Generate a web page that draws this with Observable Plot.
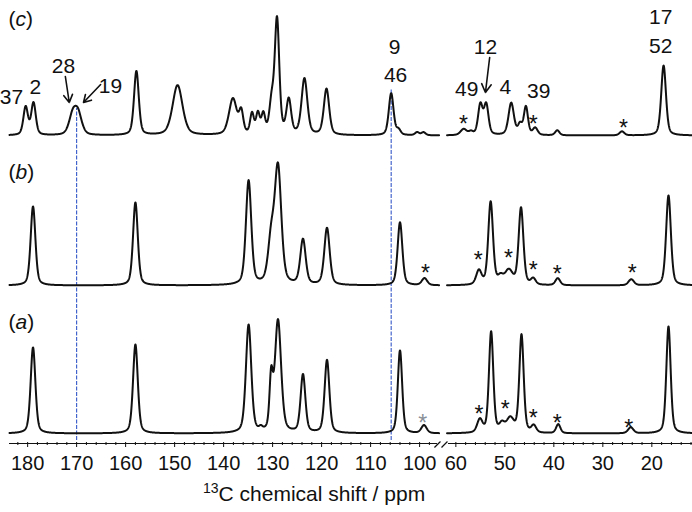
<!DOCTYPE html>
<html><head><meta charset="utf-8">
<script src="https://cdn.jsdelivr.net/npm/d3@7"></script>
<script src="https://cdn.jsdelivr.net/npm/@observablehq/plot@0.6"></script>
<style>
body{margin:0;background:#fff;font-family:"Liberation Sans",Arial,sans-serif;width:692px;overflow:hidden}
#cap{font-size:21px;margin-left:203px;line-height:24px;color:#111;white-space:nowrap}
#cap .sup{font-size:14px;position:relative;top:-8px}
</style></head><body>
<div id="chart"></div>
<div id="cap"><span class="sup">13</span>C chemical shift / ppm</div>
<script>
// ---- data (ppm, intensity, width in ppm) ----
const panelNames = ["(a)", "(b)", "(c)"];
const baselines = [9, 157, 307];          // vertical offsets of traces a, b, c
const peaksA = [
  [178.9, 86, 1.15], [158.0, 89, 1.15], [134.9, 108, 1.3], [132.4, 3, 0.8],
  [130.3, 50, 0.8], [128.9, 112, 1.5], [123.8, 58, 1.15], [118.9, 73, 1.15],
  [104.0, 83, 1.05], [99.1, 8, 1.3],
  [55.1, 13, 1.3], [52.8, 101, 1.05], [50.6, 8, 1.3], [48.9, 14, 1.8],
  [46.6, 98, 1.05], [44.1, 7, 1.15], [39.1, 9, 1.05], [24.3, 6, 1.3], [16.6, 107, 1.05]
];
const peaksB = [
  [178.9, 79, 1.15], [158.0, 83, 1.15], [134.9, 104, 1.3], [130.3, 42, 1.5],
  [128.9, 116, 1.6], [123.8, 45, 1.3], [118.9, 57, 1.3], [104.0, 63, 1.15], [99.0, 7, 1.3],
  [55.3, 14, 1.3], [52.9, 83, 1.15], [50.9, 7, 1.3], [49.2, 14, 1.9],
  [46.7, 77, 1.15], [44.2, 6, 1.15], [39.2, 7, 1.15], [24.2, 6, 1.3], [16.6, 90, 1.15]
];
const peaksC = [
  [180.4, 28, 1.1], [178.8, 32, 1.1], [170.8, 19, 1.8], [169.7, 20, 1.8],
  [157.8, 64, 1.15], [149.4, 50, 2.4], [138.1, 36, 1.9], [136.4, 21, 1.0],
  [134.2, 20, 0.9], [133.0, 20, 0.9], [131.9, 19, 0.9], [130.2, 30, 1.1],
  [129.1, 114, 1.1], [126.7, 34, 1.15], [123.5, 56, 1.4], [119.0, 46, 1.3],
  [105.8, 42, 1.15], [104.3, 5, 1.0], [100.5, 3, 1.0], [99.2, 3, 1.0],
  [58.4, 6, 1.5], [56.9, 3, 1.0], [55.0, 30, 1.1], [53.8, 30, 1.1],
  [48.7, 32, 1.3], [46.9, 10, 1.0], [45.7, 28, 1.0], [43.8, 7, 1.15],
  [39.3, 5, 1.05], [26.1, 4, 1.15], [17.6, 70, 1.15]
];
const segmentStart = [183.7, 61.8];
const segmentEnd = [96.0, 11.7];
const segmentShift = [0, 32.6];
const majorTicksLeft = [180, 170, 160, 150, 140, 130, 120, 110, 100];
const majorTicksRight = [60, 50, 40, 30, 20];
const minorTicksLeft = [182, 178, 176, 174, 172, 168, 166, 164, 162, 158, 156, 154, 152, 148, 146, 144, 142, 138, 136, 134, 132, 128, 126, 124, 122, 118, 116, 114, 112, 108, 106, 104, 102, 98];
const minorTicksRight = [58, 56, 54, 52, 48, 46, 44, 42, 38, 36, 34, 32, 28, 26, 24, 22, 18, 16, 14, 12];
const peakLabels = [
  {t: "37", seg: 0, ppm: 183.3, v: 339}, {t: "2", seg: 0, ppm: 178.4, v: 349},
  {t: "28", seg: 0, ppm: 172.7, v: 370}, {t: "19", seg: 0, ppm: 163.1, v: 350},
  {t: "9", seg: 0, ppm: 105.1, v: 389}, {t: "46", seg: 0, ppm: 104.9, v: 361},
  {t: "49", seg: 1, ppm: 57.8, v: 347}, {t: "12", seg: 1, ppm: 53.96, v: 389},
  {t: "4", seg: 1, ppm: 49.9, v: 349}, {t: "39", seg: 1, ppm: 43.1, v: 345},
  {t: "17", seg: 1, ppm: 18.2, v: 419}, {t: "52", seg: 1, ppm: 18.2, v: 390}
];
const arrows = [
  {seg: 0, p1: 172.3, v1: 366, p2: 171.5, v2: 340},
  {seg: 0, p1: 165.1, v1: 358, p2: 168.6, v2: 340},
  {seg: 1, p1: 53.1, v1: 385, p2: 53.96, v2: 350}
];
const stars = [
  {seg: 1, ppm: 58.45, v: 311}, {seg: 1, ppm: 44.2, v: 311}, {seg: 1, ppm: 25.8, v: 307},
  {seg: 0, ppm: 98.8, v: 162}, {seg: 1, ppm: 55.45, v: 175}, {seg: 1, ppm: 49.26, v: 177},
  {seg: 1, ppm: 44.2, v: 165}, {seg: 1, ppm: 39.3, v: 161}, {seg: 1, ppm: 24.0, v: 162},
  {seg: 1, ppm: 55.3, v: 21}, {seg: 1, ppm: 49.9, v: 26}, {seg: 1, ppm: 44.2, v: 17},
  {seg: 1, ppm: 39.3, v: 12}, {seg: 1, ppm: 24.7, v: 7}
];
const greyStars = [{seg: 0, ppm: 99.35, v: 12}];
const guideLines = [{ppm: 170.0, top: 334}, {ppm: 105.8, top: 354}];

// ---- build ----
const U = (seg, p) => p + segmentShift[seg];
function profile(peaks, p) {
  let s = 0;
  for (const [c, h, w] of peaks) {
    const t = (p - c) / (w / 2);
    s += h * (0.4 / (1 + t * t) + 0.6 * Math.exp(-Math.LN2 * t * t));
  }
  return s;
}
const spectra = [peaksA, peaksB, peaksC];
const rows = [];
spectra.forEach((peaks, k) => {
  for (let s = 0; s < 2; s++) {
    for (let p = segmentStart[s]; p >= segmentEnd[s] - 1e-9; p -= 0.04) {
      rows.push({key: k + "-" + s, u: U(s, p), v: baselines[k] + profile(peaks, p)});
    }
  }
});
const majorU = majorTicksLeft.map(p => U(0, p)).concat(majorTicksRight.map(p => U(1, p)));
const minorU = minorTicksLeft.map(p => U(0, p)).concat(minorTicksRight.map(p => U(1, p)));
const fmt = u => String(Math.round(u > 94 ? u : u - segmentShift[1]));
const axisSegs = [{x1: 183.7, x2: 96.35}, {x1: 94.1, x2: 44.3}];
const breakMarks = [{x1: 96.97, y1: -5, x2: 95.74, y2: 1}, {x1: 95.53, y1: -5, x2: 94.31, y2: 1}];
const panels = panelNames.map((t, k) => ({t, u: 183.9, v: [114, 264, 417][k]}));

const plot = Plot.plot({
  width: 692, height: 482,
  marginLeft: 9, marginRight: 0, marginTop: 0, marginBottom: 40,
  style: {fontFamily: "Liberation Sans, Arial, sans-serif", background: "white", color: "#111"},
  x: {domain: [183.7, 44.3], axis: null},
  y: {domain: [0, 442], axis: null},
  marks: [
    Plot.ruleX(guideLines, {x: "ppm", y1: 2, y2: "top", stroke: "#3558c8", strokeWidth: 1.1, strokeDasharray: "4,1.5"}),
    Plot.line(rows, {x: "u", y: "v", z: "key", stroke: "#111", strokeWidth: 2}),
    Plot.axisX(majorU, {ticks: majorU, tickSize: 5, tickPadding: 8, fontSize: 20, tickFormat: fmt, label: null, stroke: "#111"}),
    Plot.ruleX(minorU, {x: d => d, y1: 0, y2: -3, stroke: "#111"}),
    Plot.ruleY(axisSegs, {y: -1, x1: "x1", x2: "x2", stroke: "#111", strokeWidth: 1.2}),
    Plot.link(breakMarks, {x1: "x1", y1: "y1", x2: "x2", y2: "y2", stroke: "#111", strokeWidth: 1.2}),
    Plot.text(panels, {x: "u", y: "v", text: "t", textAnchor: "start", lineAnchor: "bottom", fontSize: 21, fill: "#111"}),
    Plot.text(peakLabels, {x: d => U(d.seg, d.ppm), y: "v", text: "t", lineAnchor: "bottom", fontSize: 21, fill: "#111"}),
    Plot.arrow(arrows, {x1: d => U(d.seg, d.p1), y1: "v1", x2: d => U(d.seg, d.p2), y2: "v2", stroke: "#111", strokeWidth: 1.6, headLength: 9}),
    Plot.text(stars, {x: d => U(d.seg, d.ppm), y: "v", text: () => "*", lineAnchor: "bottom", fontSize: 23, fill: "#111"}),
    Plot.text(greyStars, {x: d => U(d.seg, d.ppm), y: "v", text: () => "*", lineAnchor: "bottom", fontSize: 23, fill: "#8a9098"})
  ]
});
// italic panel letters
plot.querySelectorAll("text").forEach(t => {
  const m = t.textContent.match(/^\(([abc])\)$/);
  if (m) {
    const ns = "http://www.w3.org/2000/svg";
    t.textContent = "(";
    const it = document.createElementNS(ns, "tspan");
    it.setAttribute("font-style", "italic");
    it.textContent = m[1];
    t.appendChild(it);
    t.appendChild(document.createTextNode(")"));
  }
});
document.getElementById("chart").appendChild(plot);
</script></body></html>
